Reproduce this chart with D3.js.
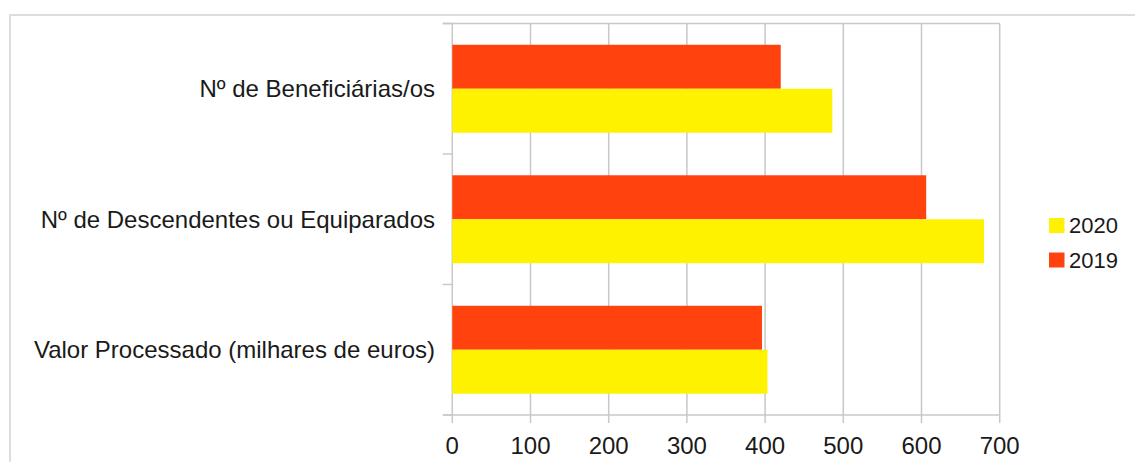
<!DOCTYPE html>
<html>
<head>
<meta charset="utf-8">
<script src="https://cdn.jsdelivr.net/npm/d3@7"></script>
<style>
  html, body { margin: 0; padding: 0; background: #ffffff; }
  svg { display: block; }
  text { font-family: "Liberation Sans", Arial, sans-serif; fill: #1a1a1a; }
</style>
</head>
<body>
<div id="chart"></div>
<script>
// Categories (top to bottom) and values per year
const categories = [
  "Nº de Beneficiárias/os",
  "Nº de Descendentes ou Equiparados",
  "Valor Processado (milhares de euros)"
];
const values2019 = [420, 606, 396];
const values2020 = [486, 680, 403];
const seriesNames = ["2019", "2020"];          // drawing order inside each group
const legendNames = ["2020", "2019"];          // legend order
const xTicks = [0, 100, 200, 300, 400, 500, 600, 700];
const colors = { "2019": "#ff420e", "2020": "#fff200" };

const W = 1135, H = 462;
const plot = { left: 452.3, right: 999.7, top: 23.5, bottom: 415 };
const gridColor = "#c8c8c8";

const svg = d3.select("#chart").append("svg")
  .attr("width", W).attr("height", H);

// Outer frame (open to the right and bottom)
svg.append("path")
  .attr("d", `M10,${H} V15 H${W}`)
  .attr("fill", "none")
  .attr("stroke", "#dddddd")
  .attr("stroke-width", 2);

const x = d3.scaleLinear().domain([0, 700]).range([plot.left, plot.right]);
const y = d3.scaleBand().domain(categories)
  .range([plot.top, plot.bottom])
  .paddingInner(0.326).paddingOuter(0.163);
const ySub = d3.scaleBand().domain(seriesNames).range([0, y.bandwidth()]);

// Vertical gridlines with ticks below the axis
const g = svg.append("g");
g.selectAll("line.grid").data(xTicks).join("line")
  .attr("class", "grid")
  .attr("x1", d => x(d)).attr("x2", d => x(d))
  .attr("y1", plot.top).attr("y2", plot.bottom + 8)
  .attr("stroke", gridColor).attr("stroke-width", 1.5);

// Top and bottom lines of the plot area, extended over the category ticks
[plot.top, plot.bottom].forEach(yy => {
  g.append("line")
    .attr("x1", plot.left - 9.5).attr("x2", plot.right)
    .attr("y1", yy).attr("y2", yy)
    .attr("stroke", gridColor).attr("stroke-width", 1.5);
});

// Category separators on the y axis
const step = y.step();
const bounds = d3.range(categories.length + 1).map(i => plot.top + i * (plot.bottom - plot.top) / categories.length);
g.selectAll("line.ytick").data(bounds).join("line")
  .attr("class", "ytick")
  .attr("x1", plot.left - 9.5).attr("x2", plot.left)
  .attr("y1", d => d).attr("y2", d => d)
  .attr("stroke", gridColor).attr("stroke-width", 1.5);

// Bars
const rows = categories.map((c, i) => ({ cat: c, "2019": values2019[i], "2020": values2020[i] }));
const groups = svg.append("g").selectAll("g").data(rows).join("g")
  .attr("transform", d => `translate(0,${y(d.cat)})`);
groups.selectAll("rect").data(d => seriesNames.map(s => ({ s, v: d[s] }))).join("rect")
  .attr("x", x(0))
  .attr("y", d => ySub(d.s))
  .attr("width", d => x(d.v) - x(0))
  .attr("height", ySub.bandwidth())
  .attr("fill", d => colors[d.s]);

// Category labels
svg.append("g").selectAll("text").data(categories).join("text")
  .attr("x", 435)
  .attr("y", d => y(d) + y.bandwidth() / 2)
  .attr("dy", "0.35em")
  .attr("text-anchor", "end")
  .attr("font-size", 24)
  .text(d => d);

// X tick labels
svg.append("g").selectAll("text").data(xTicks).join("text")
  .attr("x", d => x(d))
  .attr("y", 454)
  .attr("text-anchor", "middle")
  .attr("font-size", 24)
  .text(d => d);

// Legend
const legend = svg.append("g");
legendNames.forEach((name, i) => {
  const ly = 218 + i * 34.5;
  legend.append("rect")
    .attr("x", 1049).attr("y", ly)
    .attr("width", 15.5).attr("height", 15)
    .attr("fill", colors[name]);
  legend.append("text")
    .attr("x", 1069).attr("y", ly + 15)
    .attr("font-size", 22)
    .text(name);
});
</script>
</body>
</html>
